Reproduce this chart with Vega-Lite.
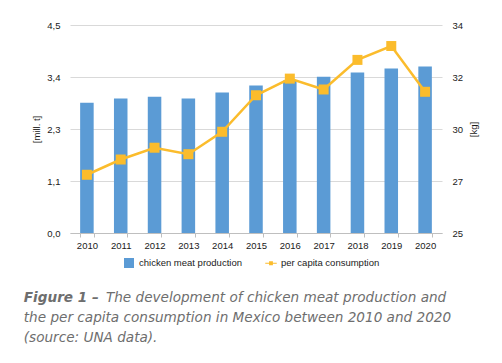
{
  "$schema": "https://vega.github.io/schema/vega-lite/v6.json",
  "width": 372,
  "height": 208,
  "padding": {"left": 23, "top": 20, "right": 5, "bottom": 5},
  "background": "white",
  "config": {
    "font": "Liberation Sans",
    "view": {"stroke": null},
    "axis": {"labelFontSize": 9.5, "labelColor": "#1a1a1a", "titleFontSize": 9.5, "titleFontWeight": "normal", "titleColor": "#1a1a1a"}
  },
  "title": {
    "text": "Figure 1 –",
    "subtitle": ["\u200b\u00a0\u00a0\u00a0\u00a0\u00a0\u00a0\u00a0\u00a0\u00a0\u00a0\u00a0\u00a0\u00a0\u00a0\u00a0\u00a0\u00a0\u00a0\u00a0The development of chicken meat production and", "the per capita consumption in Mexico between 2010 and 2020", "(source: UNA data)."],
    "orient": "bottom",
    "anchor": "start",
    "frame": "bounds",
    "dx": -8,
    "offset": 23,
    "font": "DejaVu Sans",
    "fontSize": 13.6,
    "fontStyle": "italic",
    "fontWeight": "bold",
    "color": "#6e6e6e",
    "lineHeight": 20,
    "subtitleFont": "DejaVu Sans",
    "subtitleFontSize": 13.6,
    "subtitleFontStyle": "italic",
    "subtitleFontWeight": "normal",
    "subtitleColor": "#6e6e6e",
    "subtitleLineHeight": 20,
    "subtitlePadding": -14
  },
  "data": {
    "values": [
      {"year": "2010", "production": 2.82, "consumption": 27.52},
      {"year": "2011", "production": 2.91, "consumption": 28.18},
      {"year": "2012", "production": 2.95, "consumption": 28.69},
      {"year": "2013", "production": 2.91, "consumption": 28.41},
      {"year": "2014", "production": 3.04, "consumption": 29.38},
      {"year": "2015", "production": 3.19, "consumption": 30.96},
      {"year": "2016", "production": 3.30, "consumption": 31.68},
      {"year": "2017", "production": 3.38, "consumption": 31.21},
      {"year": "2018", "production": 3.47, "consumption": 32.49},
      {"year": "2019", "production": 3.56, "consumption": 33.09},
      {"year": "2020", "production": 3.60, "consumption": 31.11}
    ]
  },
  "encoding": {
    "x": {
      "field": "year",
      "type": "ordinal",
      "scale": {"paddingInner": 0.6, "paddingOuter": 0.3},
      "axis": {
        "title": null,
        "labelAngle": 0,
        "domainColor": "#bfbfbf",
        "tickColor": "#bfbfbf",
        "tickSize": 4,
        "tickBand": "extent",
        "labelPadding": 3,
        "grid": false
      }
    }
  },
  "layer": [
    {
      "mark": {"type": "bar"},
      "encoding": {
        "y": {
          "field": "production",
          "type": "quantitative",
          "scale": {"domain": [0, 4.5], "nice": false, "zero": true},
          "axis": {
            "values": [0, 1.125, 2.25, 3.375, 4.5],
            "labelExpr": "replace(format(datum.value, '.1f'), '.', ',')",
            "grid": true,
            "gridColor": "#d9d9d9",
            "domain": false,
            "ticks": false,
            "labelPadding": 10,
            "title": "[mill. t]",
            "titleAngle": 270,
            "titlePadding": 5
          }
        },
        "color": {
          "datum": "chicken meat production",
          "type": "nominal",
          "scale": {"domain": ["chicken meat production", "per capita consumption"], "range": ["#5B9BD5", "#FBBC2C"]},
          "legend": {
            "title": null,
            "orient": "none",
            "legendX": 54,
            "legendY": 233,
            "direction": "horizontal",
            "symbolSize": 100,
            "labelFontSize": 9.5,
            "labelColor": "#1a1a1a",
            "labelOffset": 5,
            "columnPadding": 23,
            "symbolStrokeWidth": 0,
            "encode": {
              "symbols": {
                "update": {
                  "shape": [
                    {"test": "datum.label == 'per capita consumption'", "value": "M-1.15,-0.12H1.15V0.12H-1.15Z M-0.38,-0.38H0.38V0.38H-0.38Z"},
                    {"value": "square"}
                  ]
                }
              }
            }
          }
        }
      }
    },
    {
      "encoding": {
        "y": {
          "field": "consumption",
          "type": "quantitative",
          "scale": {"domain": [25, 34], "nice": false, "zero": false},
          "axis": {
            "orient": "right",
            "values": [25, 27.25, 29.5, 31.75, 34],
            "format": ".0f",
            "grid": false,
            "domain": false,
            "ticks": false,
            "labelPadding": 10,
            "title": "[kg]",
            "titleAngle": 270,
            "titleBaseline": "top",
            "titlePadding": 6
          }
        },
        "color": {"datum": "per capita consumption", "type": "nominal"}
      },
      "layer": [
        {"mark": {"type": "line", "strokeWidth": 2.5}, "encoding": {}},
        {"mark": {"type": "point", "shape": "square", "filled": true, "size": 100, "opacity": 1}, "encoding": {}}
      ]
    }
  ],
  "resolve": {"scale": {"y": "independent"}}
}
